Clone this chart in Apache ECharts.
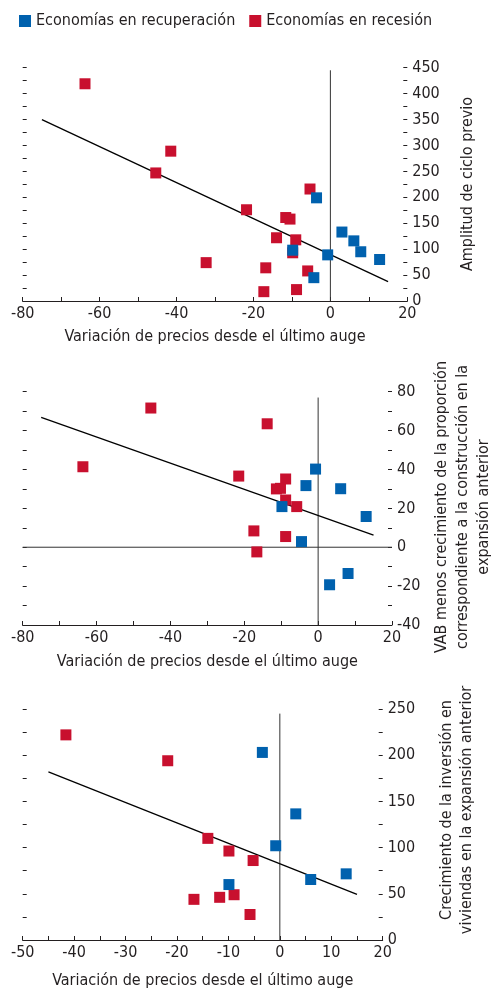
<!DOCTYPE html>
<html>
<head>
<meta charset="utf-8">
<script src="https://cdn.jsdelivr.net/npm/echarts@6/dist/echarts.min.js"></script>
<style>
html, body { margin: 0; padding: 0; background: #fff; }
#main { width: 498px; height: 990px; }
</style>
</head>
<body>
<div id="main"></div>
<script>
// panel 1: amplitud de ciclo previo
var ampRecuperacion = [[-3.6, 199], [3.0, 133], [6.1, 116], [7.9, 95], [12.8, 80], [-0.7, 89], [-9.8, 98], [-4.3, 45]];
var ampRecesion = [[-63.8, 419], [-41.5, 289], [-45.4, 247], [-5.3, 216], [-21.8, 176], [-11.6, 161], [-10.5, 158],
  [-14.0, 122], [-9.0, 118], [-9.8, 93], [-32.3, 74], [-16.8, 64], [-5.9, 58], [-17.3, 18], [-8.8, 22]];
var ampTendencia = [[-75, 350], [15, 37.5]];

// panel 2: VAB menos crecimiento de la proporcion de la construccion
var vabRecuperacion = [[-0.7, 40.2], [-3.3, 31.7], [6.1, 30.1], [-9.8, 20.9], [13.0, 15.8], [-4.5, 2.9], [3.1, -19.3], [8.1, -13.5]];
var vabRecesion = [[-45.3, 71.6], [-13.8, 63.5], [-63.7, 41.4], [-21.5, 36.6], [-8.8, 35.1], [-11.3, 30], [-10.2, 30.3],
  [-8.8, 24.3], [-5.8, 20.9], [-17.4, 8.4], [-8.8, 5.5], [-16.6, -2.4]];
var vabTendencia = [[-75, 66.8], [15, 6.2]];

// panel 3: crecimiento de la inversion en viviendas
var vivRecuperacion = [[-3.4, 203], [3.1, 136.5], [-0.8, 102], [-9.9, 60], [6.0, 65.5], [12.9, 71.6]];
var vivRecesion = [[-41.6, 222], [-21.8, 194], [-14.0, 110], [-9.9, 96.3], [-5.2, 86], [-16.7, 44], [-11.7, 46.2],
  [-8.9, 49], [-5.8, 27.6]];
var vivTendencia = [[-45, 182], [15, 49.4]];

// lineas de referencia
var ref1Vertical = [[0, 0], [0, 445]];
var ref2Vertical = [[0, -40], [0, 77]];
var ref2Horizontal = [[-80, 0], [20, 0]];
var ref3Vertical = [[0, 0], [0, 245]];

var xTitulo = 'Variación de precios desde el último auge';
var nombreRecup = 'Economías en recuperación';
var nombreRecesion = 'Economías en recesión';

var AZUL = '#0061ae';
var ROJO = '#c8102e';
var TEXTO = '#231f20';
var FUENTE = "'Liberation Sans Narrow', 'DejaVu Sans Condensed', 'Roboto Condensed', sans-serif";

var myChart = echarts.init(document.getElementById('main'));

function ejeX(idx, min, max, interval, cada, gap) {
  return {
    gridIndex: idx, type: 'value', min: min, max: max, interval: interval,
    axisLine: { onZero: false, lineStyle: { color: TEXTO, width: 1 } },
    axisTick: { inside: true, length: 4, lineStyle: { color: TEXTO } },
    splitLine: { show: false },
    axisLabel: {
      margin: 5, color: TEXTO, fontFamily: FUENTE, fontSize: 16,
      formatter: function (v) { return v % cada === 0 ? v : ''; }
    },
    name: xTitulo, nameLocation: 'middle', nameGap: gap,
    nameTextStyle: { color: TEXTO, fontFamily: FUENTE, fontSize: 16 }
  };
}

function ejeY(idx, min, max, interval, cada, pos) {
  return {
    gridIndex: idx, type: 'value', position: pos, min: min, max: max, interval: interval,
    axisLine: { show: false, onZero: false },
    axisTick: { show: true, inside: true, length: 4, lineStyle: { color: TEXTO } },
    splitLine: { show: false },
    axisLabel: {
      show: pos === 'right', margin: 5, color: TEXTO, fontFamily: FUENTE, fontSize: 16,
      formatter: function (v) { return v % cada === 0 ? v : ''; }
    }
  };
}

function puntos(nombre, color, idx, datos) {
  return {
    name: nombre, type: 'scatter', xAxisIndex: idx, yAxisIndex: idx * 2,
    symbol: 'rect', symbolSize: 11, itemStyle: { color: color, opacity: 1 },
    data: datos, z: 3
  };
}

function linea(idx, datos, color, ancho) {
  return {
    type: 'line', xAxisIndex: idx, yAxisIndex: idx * 2,
    data: datos, showSymbol: false, symbol: 'none', silent: true,
    lineStyle: { color: color, width: ancho }, z: 2
  };
}

var option = {
  animation: false,
  textStyle: { fontFamily: FUENTE },
  legend: {
    data: [nombreRecup, nombreRecesion],
    left: 14, top: 8, itemWidth: 12, itemHeight: 12, itemGap: 14,
    icon: 'rect',
    textStyle: { color: TEXTO, fontFamily: FUENTE, fontSize: 16 }
  },
  grid: [
    { left: 22.7, top: 67.7, width: 384.6, height: 233.3 },
    { left: 22.7, top: 391.7, width: 369.3, height: 233.3 },
    { left: 22.7, top: 709, width: 360, height: 232.7 }
  ],
  xAxis: [
    ejeX(0, -80, 20, 10, 20, 28),
    ejeX(1, -80, 20, 10, 20, 29),
    ejeX(2, -50, 20, 5, 10, 33)
  ],
  yAxis: [
    ejeY(0, 0, 450, 25, 50, 'right'),
    ejeY(0, 0, 450, 25, 50, 'left'),
    ejeY(1, -40, 80, 10, 20, 'right'),
    ejeY(1, -40, 80, 10, 20, 'left'),
    ejeY(2, 0, 250, 25, 50, 'right'),
    ejeY(2, 0, 250, 25, 50, 'left')
  ],
  graphic: [
    {
      type: 'text', x: 468, y: 184, rotation: Math.PI / 2,
      style: { text: 'Amplitud de ciclo previo', fill: TEXTO, font: '16px ' + FUENTE, textAlign: 'center', textVerticalAlign: 'middle' }
    },
    {
      type: 'text', x: 462.5, y: 507, rotation: Math.PI / 2,
      style: {
        text: 'VAB menos crecimiento de la proporción\ncorrespondiente a la construcción en la\nexpansión anterior',
        fill: TEXTO, font: '16px ' + FUENTE, lineHeight: 21, textAlign: 'center', textVerticalAlign: 'middle'
      }
    },
    {
      type: 'text', x: 456.7, y: 810, rotation: Math.PI / 2,
      style: {
        text: 'Crecimiento de la inversión en\nviviendas en la expansión anterior',
        fill: TEXTO, font: '16px ' + FUENTE, lineHeight: 20, textAlign: 'center', textVerticalAlign: 'middle'
      }
    }
  ],
  series: [
    linea(0, ref1Vertical, '#333', 1),
    puntos(nombreRecesion, ROJO, 0, ampRecesion),
    puntos(nombreRecup, AZUL, 0, ampRecuperacion),
    linea(0, ampTendencia, '#000', 1.3),

    linea(1, ref2Vertical, '#333', 1),
    linea(1, ref2Horizontal, '#333', 1),
    puntos(nombreRecesion, ROJO, 1, vabRecesion),
    puntos(nombreRecup, AZUL, 1, vabRecuperacion),
    linea(1, vabTendencia, '#000', 1.3),

    linea(2, ref3Vertical, '#333', 1),
    puntos(nombreRecesion, ROJO, 2, vivRecesion),
    puntos(nombreRecup, AZUL, 2, vivRecuperacion),
    linea(2, vivTendencia, '#000', 1.3)
  ]
};

myChart.setOption(option);
</script>
</body>
</html>
